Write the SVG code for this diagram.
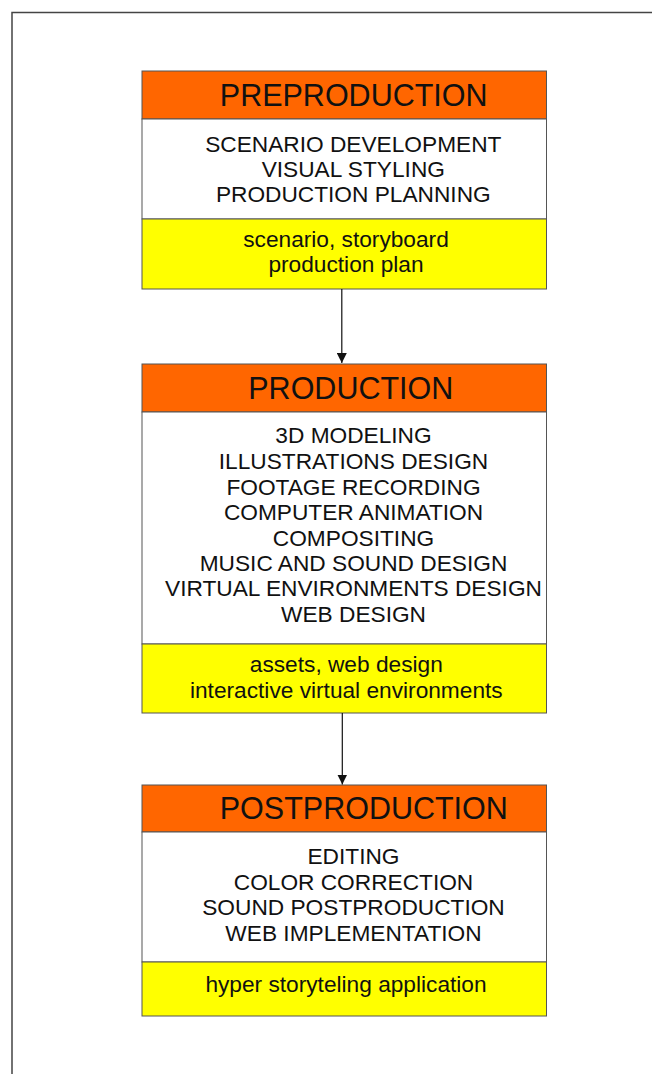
<svg xmlns="http://www.w3.org/2000/svg" width="652" height="1074" viewBox="0 0 652 1074">
<style>
.title{font-family:"Liberation Sans",Arial,sans-serif;font-size:30.5px;fill:#111;text-anchor:middle}
.body{font-family:"Liberation Sans",Arial,sans-serif;font-size:22.7px;fill:#111;text-anchor:middle}
.out{font-family:"Liberation Sans",Arial,sans-serif;font-size:22.7px;fill:#111;text-anchor:middle}
.hdr{fill:#FF6600;stroke:#555;stroke-width:1}
.mid{fill:#FFFFFF;stroke:#555;stroke-width:1}
.res{fill:#FFFF00;stroke:#555;stroke-width:1}
.conn{stroke:#111;stroke-width:1.2;fill:none}
</style>
<defs>
<marker id="arr" viewBox="0 0 10 10" refX="10" refY="5" markerWidth="10" markerHeight="10" markerUnits="userSpaceOnUse" orient="auto">
<path d="M0,0 L10,5 L0,10 Z" fill="#111"/>
</marker>
</defs>
<rect width="652" height="1074" fill="#fff"/>
<path d="M12,1074 V12.5 H652" fill="none" stroke="#444" stroke-width="1.5"/>
<g id="preproduction">
<rect class="hdr" x="142" y="71" width="404.5" height="48"/>
<rect class="mid" x="142" y="119" width="404.5" height="100"/>
<rect class="res" x="142" y="219" width="404.5" height="70"/>
<text class="title" x="353.7" y="105.7">PREPRODUCTION</text>
<text class="body" x="353.3" y="151.7">SCENARIO DEVELOPMENT</text>
<text class="body" x="353.3" y="176.5">VISUAL STYLING</text>
<text class="body" x="353.3" y="201.7">PRODUCTION PLANNING</text>
<text class="out" x="346" y="246.7">scenario, storyboard</text>
<text class="out" x="346" y="272">production plan</text>
</g>
<g id="production">
<rect class="hdr" x="142" y="364" width="404.5" height="48"/>
<rect class="mid" x="142" y="412" width="404.5" height="232"/>
<rect class="res" x="142" y="644" width="404.5" height="69"/>
<text class="title" x="350.8" y="399">PRODUCTION</text>
<text class="body" x="353.5" y="443.3">3D MODELING</text>
<text class="body" x="353.5" y="469">ILLUSTRATIONS DESIGN</text>
<text class="body" x="353.5" y="494.5">FOOTAGE RECORDING</text>
<text class="body" x="353.5" y="520">COMPUTER ANIMATION</text>
<text class="body" x="353.5" y="545.5">COMPOSITING</text>
<text class="body" x="353.5" y="571">MUSIC AND SOUND DESIGN</text>
<text class="body" x="353.5" y="596.3">VIRTUAL ENVIRONMENTS DESIGN</text>
<text class="body" x="353.5" y="621.7">WEB DESIGN</text>
<text class="out" x="346.3" y="672.3">assets, web design</text>
<text class="out" x="346.3" y="697.7">interactive virtual environments</text>
</g>
<g id="postproduction">
<rect class="hdr" x="142" y="785" width="404.5" height="47"/>
<rect class="mid" x="142" y="832" width="404.5" height="130"/>
<rect class="res" x="142" y="962" width="404.5" height="54"/>
<text class="title" x="363.8" y="819.3">POSTPRODUCTION</text>
<text class="body" x="353.5" y="864">EDITING</text>
<text class="body" x="353.5" y="890">COLOR CORRECTION</text>
<text class="body" x="353.5" y="915.3">SOUND POSTPRODUCTION</text>
<text class="body" x="353.5" y="940.7">WEB IMPLEMENTATION</text>
<text class="out" x="346" y="992">hyper storyteling application</text>
</g>
<g id="connectors">
<line class="conn" x1="341.8" y1="289" x2="341.8" y2="363" marker-end="url(#arr)"/>
<line class="conn" x1="342.3" y1="713" x2="342.3" y2="784.5" marker-end="url(#arr)"/>
</g>
</svg>
